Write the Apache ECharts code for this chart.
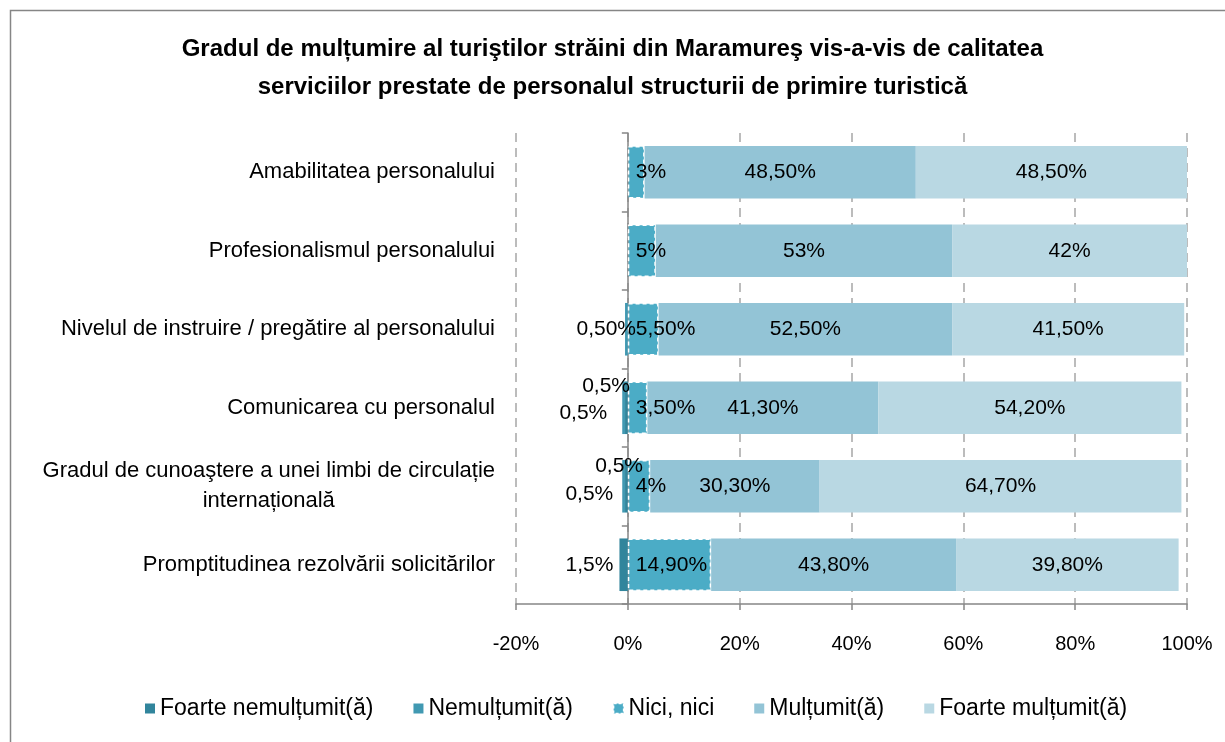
<!DOCTYPE html>
<html lang="ro">

<head>
  <meta charset="UTF-8">
  <title>Gradul de mulțumire al turiştilor străini</title>
  <script src="https://cdn.jsdelivr.net/npm/echarts@6/dist/echarts.min.js"></script>
  <style>
    html, body { margin: 0; padding: 0; background: #fff; }
  </style>
</head>

<body>
  <div id="chart" style="width:1225px;height:742px;"></div>
</body>

</html>
<script type="text/javascript">
  // categorii (de sus in jos)
  let categories = [
    'Amabilitatea personalului',
    'Profesionalismul personalului',
    'Nivelul de instruire / pregătire al personalului',
    'Comunicarea cu personalul',
    'Gradul de cunoaştere a unei limbi de circulație\ninternațională',
    'Promptitudinea rezolvării solicitărilor'
  ];
  let seriesNames = ['Foarte nemulțumit(ă)', 'Nemulțumit(ă)', 'Nici, nici', 'Mulțumit(ă)', 'Foarte mulțumit(ă)'];

  // valori (%), partea negativa = nemultumiti
  let foarteNemultumit = ['-', '-', '-', -0.5, -0.5, -1.5];
  let nemultumit = ['-', '-', -0.5, -0.5, -0.5, '-'];
  let niciNici = [3, 5, 5.5, 3.5, 4, 14.9];
  let multumit = [48.5, 53, 52.5, 41.3, 30.3, 43.8];
  let foarteMultumit = [48.5, 42, 41.5, 54.2, 64.7, 39.8];

  // etichetele din grafic pentru valorile negative
  let foarteNemultumitLabels = ['', '', '', '0,5%', '0,5%', '1,5%'];
  let nemultumitLabels = ['', '', '0,50%', '0,5%', '0,5%', ''];

  let xTicks = [-20, 0, 20, 40, 60, 80, 100];

  let colors = ['#31859C', '#4199B2', '#4BACC6', '#93C4D6', '#B9D8E3'];
  let fontFam = '"Liberation Sans", Arial, sans-serif';

  function fmt(v) {
    return Number.isInteger(v) ? v + '%' : v.toFixed(2).replace('.', ',') + '%';
  }

  let chart = echarts.init(document.getElementById('chart'));

  let labelBase = { show: true, color: '#000', fontSize: 21, fontFamily: fontFam };

  // pozitii pentru etichetele mici din stanga axei
  let fnLabelCfg = [null, null, null,
    { position: 'left', distance: 0, offset: [5, -22] },
    { position: 'left', distance: 0, offset: [18, -20] },
    { position: 'left', distance: 6 }];
  let nLabelCfg = [null, null,
    { position: 'left', distance: 0, offset: [11, 0] },
    { position: 'left', distance: 15, offset: [0, 5] },
    { position: 'left', distance: 9, offset: [0, 8] },
    null];

  function negData(values, labels, cfg) {
    return values.map(function (v, i) {
      if (v === '-') return v;
      return { value: v, label: Object.assign({ formatter: labels[i] }, cfg[i]) };
    });
  }

  let option = {
    animation: false,
    backgroundColor: '#fff',
    color: colors,
    title: {
      text: 'Gradul de mulțumire al turiştilor străini din Maramureş vis-a-vis de calitatea\nserviciilor prestate de personalul structurii de primire turistică',
      left: 'center',
      top: 25,
      textStyle: { fontSize: 24, fontWeight: 'bold', fontFamily: fontFam, color: '#000', lineHeight: 38 }
    },
    graphic: [{
      type: 'rect',
      shape: { x: 10.5, y: 10.5, width: 1300, height: 800 },
      style: { fill: 'none', stroke: '#868686', lineWidth: 1.5 }
    }],
    legend: {
      bottom: 17,
      left: 140,
      itemWidth: 10,
      itemHeight: 10,
      itemGap: 40,
      icon: 'rect',
      textStyle: { fontSize: 23, fontFamily: fontFam, color: '#000' },
      data: seriesNames.map(function (n, i) {
        return i === 2
          ? { name: n, itemStyle: { borderColor: '#fff', borderWidth: 1.5, borderType: [3, 2] } }
          : { name: n };
      })
    },
    grid: { left: 516, right: 38, top: 133, bottom: 138 },
    xAxis: {
      type: 'value',
      min: -20,
      max: 100,
      interval: 20,
      axisLine: { show: true, onZero: false, lineStyle: { color: '#868686', width: 1.5 } },
      axisTick: { show: true, length: 6, lineStyle: { color: '#868686', width: 1.5 } },
      axisLabel: {
        margin: 30, color: '#000', fontSize: 20, fontFamily: fontFam,
        formatter: function (v) { return xTicks.indexOf(v) >= 0 ? v + '%' : ''; }
      },
      splitLine: { show: true, lineStyle: { color: '#A6A6A6', type: [9, 6], width: 1.5 } }
    },
    yAxis: [{
      type: 'category',
      inverse: true,
      data: categories,
      axisLine: { show: false, onZero: false },
      axisTick: { show: false },
      axisLabel: {
        margin: 21, fontSize: 22, fontFamily: fontFam, color: '#000', lineHeight: 30,
        formatter: function (v) {
          return v.split('\n').map(function (s) { return '{c|' + s + '}'; }).join('\n');
        },
        rich: { c: { align: 'center', fontSize: 22, fontFamily: fontFam, color: '#000', lineHeight: 30 } }
      }
    }, {
      type: 'category',
      inverse: true,
      data: categories,
      position: 'left',
      axisLine: { show: true, onZero: true, lineStyle: { color: '#868686', width: 1.5 } },
      axisTick: { show: true, length: 6, lineStyle: { color: '#868686', width: 1.5 } },
      axisLabel: { show: false }
    }],
    series: [{
      name: seriesNames[0], type: 'bar', stack: 'total', barWidth: '67%',
      itemStyle: { color: colors[0] },
      label: labelBase,
      data: negData(foarteNemultumit, foarteNemultumitLabels, fnLabelCfg)
    }, {
      name: seriesNames[1], type: 'bar', stack: 'total', barWidth: '67%',
      itemStyle: { color: colors[1] },
      label: labelBase,
      data: negData(nemultumit, nemultumitLabels, nLabelCfg)
    }, {
      name: seriesNames[2], type: 'bar', stack: 'total', barWidth: '67%',
      itemStyle: { color: colors[2], borderColor: '#fff', borderWidth: 1.5, borderType: [4, 3] },
      label: Object.assign({}, labelBase, {
        position: 'insideLeft', distance: 8,
        formatter: function (p) { return fmt(p.value); }
      }),
      data: niciNici
    }, {
      name: seriesNames[3], type: 'bar', stack: 'total', barWidth: '67%',
      itemStyle: { color: colors[3] },
      label: Object.assign({}, labelBase, {
        position: 'inside',
        formatter: function (p) { return fmt(p.value); }
      }),
      data: multumit
    }, {
      name: seriesNames[4], type: 'bar', stack: 'total', barWidth: '67%',
      itemStyle: { color: colors[4] },
      label: Object.assign({}, labelBase, {
        position: 'inside',
        formatter: function (p) { return fmt(p.value); }
      }),
      data: foarteMultumit
    }]
  };
  chart.setOption(option);
</script>
